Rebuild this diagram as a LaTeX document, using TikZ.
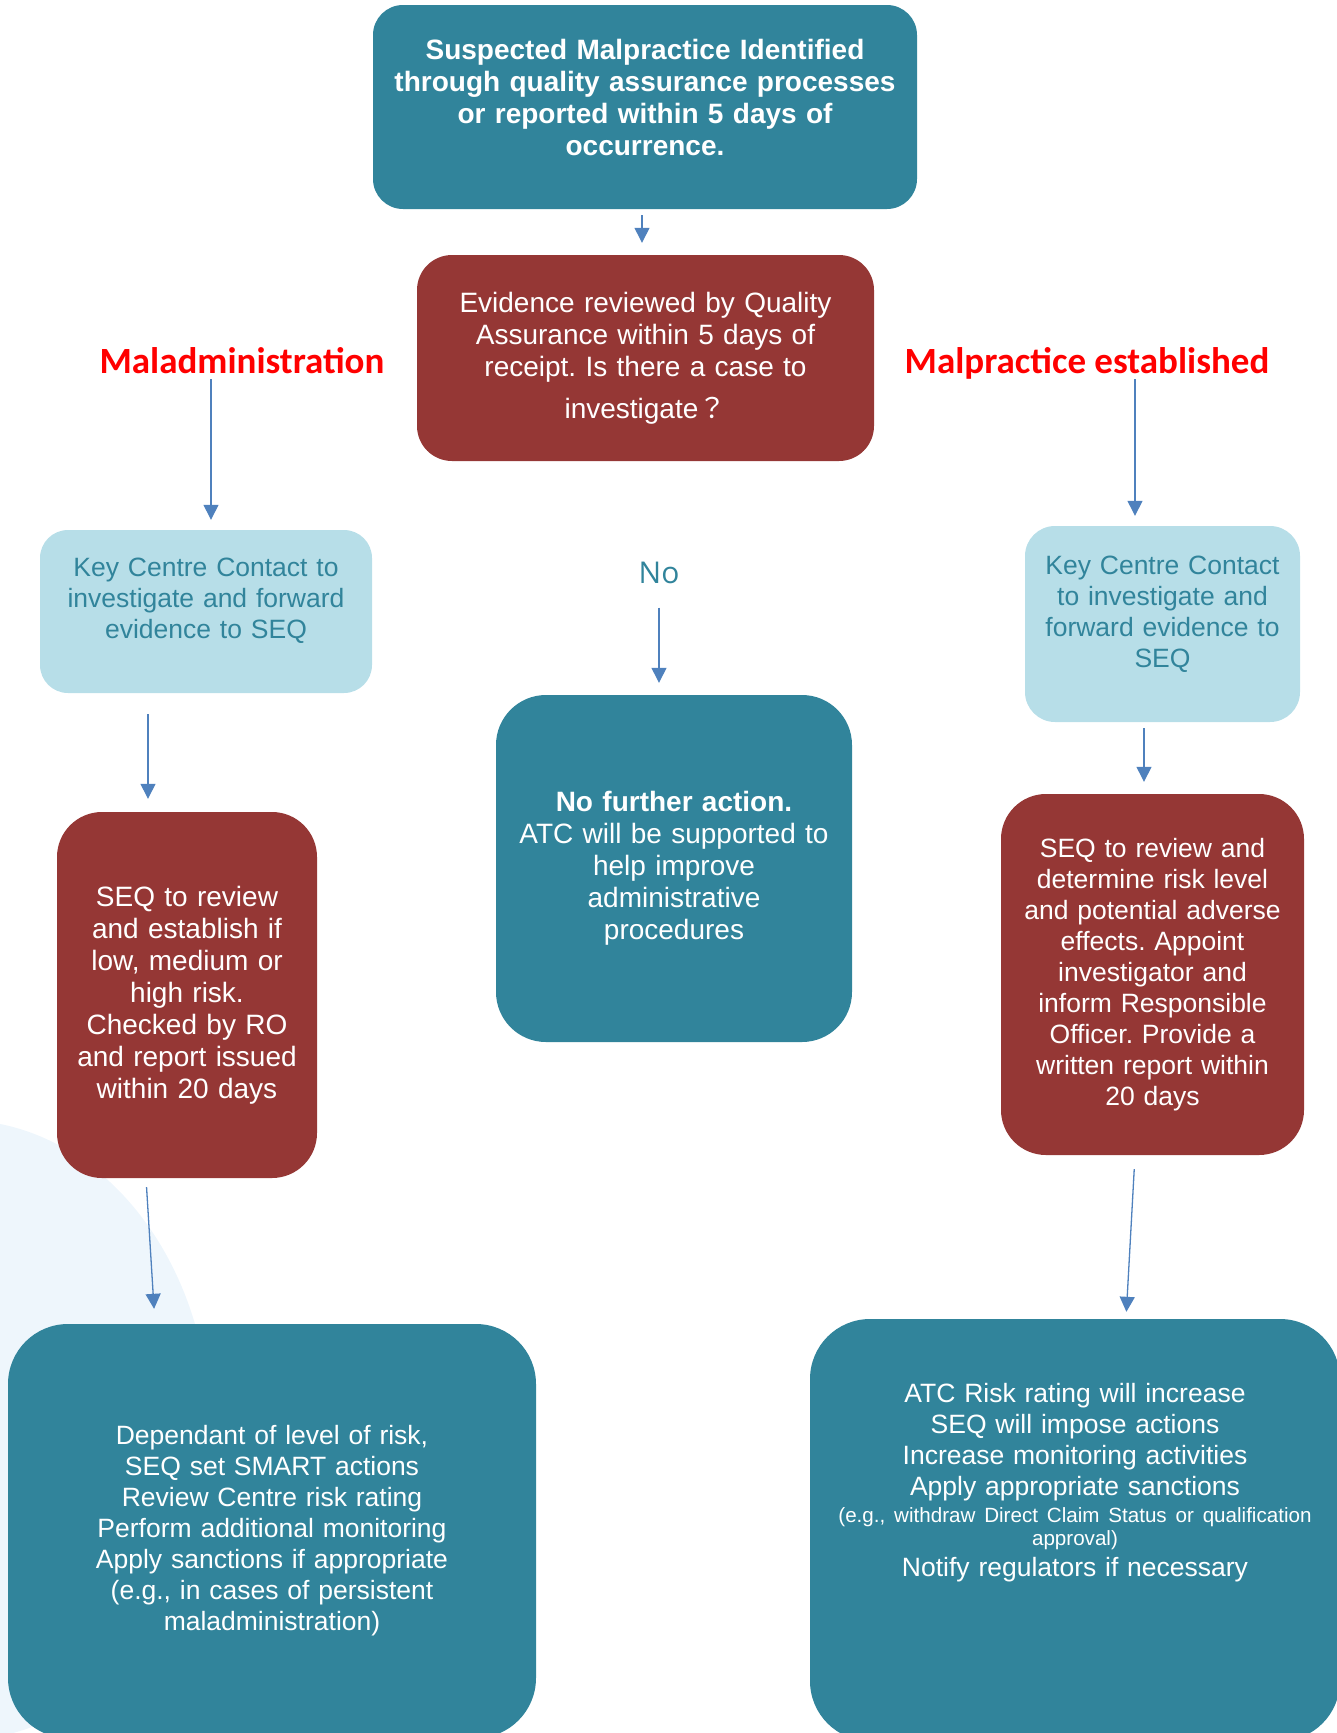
\documentclass[tikz,border=0pt]{standalone}
\usepackage{fontspec}
\setmainfont{Liberation Sans}
\newfontfamily\calibrifont{Carlito}
\newfontfamily\nofont{Open Sans}
\newfontfamily\cjkfont{Noto Sans CJK JP}
\usetikzlibrary{arrows}
\usepgflibrary{arrows.meta}
\definecolor{qateal}{HTML}{31849B}
\definecolor{qared}{HTML}{953735}
\definecolor{qalight}{HTML}{B7DEE8}
\definecolor{qaarrow}{HTML}{4F81BD}
\definecolor{qashade}{HTML}{EEF6FC}
\newcommand{\liftby}[1]{\par\vspace*{#1}}
\frenchspacing

\begin{document}
\begin{tikzpicture}
    [x=1pt, y=-1pt,
    flow/.style={draw=qaarrow, line width=1.3pt, -{Triangle[width=15pt,length=15pt]}},
    qabox/.style={inner sep=0pt, align=center, text width=#1},
    tealbox/.style={fill=qateal, text=white},
    redbox/.style={fill=qared, text=white},
    lightbox/.style={fill=qalight, text=qateal},
    branch/.style={inner sep=0pt, anchor=base, text=red, font=\calibrifont\bfseries\fontsize{37}{44}\selectfont},
    body/.style={font=\fontsize{26.5}{31}\selectfont},
    bigbody/.style={font=\fontsize{28}{32}\selectfont}]
        \useasboundingbox (0,0) rectangle (1337,1733);
        %% background shade
        \fill[qashade] (-40,1430) ellipse [x radius=250, y radius=310];

        %% start
        \node[qabox=520pt, tealbox, rounded corners=30pt, minimum width=544pt, minimum height=204pt,
            font=\bfseries\fontsize{28}{32}\selectfont] (suspect) at (645,107)
            {Suspected Malpractice Identified\\ through quality assurance processes\\ or reported within 5 days of\\ occurrence.\liftby{20pt}};
        \node[qabox=440pt, redbox, rounded corners=35pt, minimum width=457pt, minimum height=206pt, bigbody] (review) at (645.5,358)
            {Evidence reviewed by Quality\\ Assurance within 5 days of\\ receipt. Is there a case to\\[10pt] investigate{\cjkfont ？}};

        %% branches
        \node[branch] (maladmin) at (242,373) {Maladministration};
        \node[branch] (malprac) at (1087,373) {Malpractice established};
        \node[inner sep=0pt, anchor=base, text=qateal, font=\nofont\fontsize{30}{36}\selectfont] (no) at (659,583) {No};

        \node[qabox=320pt, lightbox, rounded corners=28pt, minimum width=332pt, minimum height=163pt, body] (keyleft) at (206,611.5)
            {Key Centre Contact to\\ investigate and forward\\ evidence to SEQ\liftby{21pt}};
        \node[qabox=265pt, lightbox, rounded corners=30pt, minimum width=275pt, minimum height=196pt, body] (keyright) at (1162.5,624)
            {Key Centre Contact\\ to investigate and\\ forward evidence to\\ SEQ\liftby{20pt}};
        \node[qabox=345pt, tealbox, rounded corners=50pt, minimum width=356pt, minimum height=347pt, bigbody] (nfa) at (674,868.5)
            {\textbf{No further action.}\\ ATC will be supported to\\ help improve\\ administrative\\ procedures};

        \node[qabox=250pt, redbox, rounded corners=45pt, minimum width=260pt, minimum height=366pt, bigbody] (seqleft) at (187,995)
            {SEQ to review\\ and establish if\\ low, medium or\\ high risk.\\ Checked by RO\\ and report issued\\ within 20 days};
        \node[qabox=295pt, redbox, rounded corners=45pt, minimum width=303pt, minimum height=361pt, body] (seqright) at (1152.5,974.5)
            {SEQ to review and\\ determine risk level\\ and potential adverse\\ effects. Appoint\\ investigator and\\ inform Responsible\\ Officer. Provide a\\ written report within\\ 20 days};

        %% outcomes
        \node[qabox=500pt, tealbox, rounded corners=60pt, minimum width=528pt, minimum height=414pt, body] (actleft) at (272,1531)
            {Dependant of level of risk,\\ SEQ set SMART actions\\ Review Centre risk rating\\ Perform additional monitoring\\ Apply sanctions if appropriate\\ (e.g., in cases of persistent\\ maladministration)};
        \node[qabox=510pt, tealbox, rounded corners=60pt, minimum width=530pt, minimum height=422pt, body] (actright) at (1075,1530)
            {ATC Risk rating will increase\\ SEQ will impose actions\\ Increase monitoring activities\\ Apply appropriate sanctions\par\vspace{4pt}
            {\fontsize{20.6}{23}\selectfont (e.g., withdraw Direct Claim Status or qualification\\ approval)\par}
            Notify regulators if necessary\liftby{94pt}};

        %% connectors
        \draw[flow, shorten <=6pt, shorten >=12pt] ([xshift=-3pt]suspect.south) -- ([xshift=-3.5pt]review.north);
        \draw[flow, shorten <=6pt, shorten >=10pt] ([xshift=5pt]keyleft.north |- maladmin.south) -- ([xshift=5pt]keyleft.north);
        \draw[flow, shorten <=0pt, shorten >=10pt] ([xshift=-27.5pt]keyright.north |- malprac.south) -- ([xshift=-27.5pt]keyright.north);
        \draw[flow, shorten <=24pt, shorten >=12pt] (no.south) -- (no.south |- nfa.north);
        \draw[flow, shorten <=21pt, shorten >=13pt] ([xshift=-58pt]keyleft.south) -- ([xshift=-58pt]keyleft.south |- seqleft.north);
        \draw[flow, shorten <=6pt, shorten >=12pt] ([xshift=-18.5pt]keyright.south) -- ([xshift=-18.5pt]keyright.south |- seqright.north);
        \draw[flow, shorten <=9pt, shorten >=15pt] ([xshift=-41pt]seqleft.south) -- ([xshift=-117pt]actleft.north);
        \draw[flow, shorten <=14pt, shorten >=7pt] ([xshift=-17.5pt]seqright.south) -- ([xshift=51pt]actright.north);
\end{tikzpicture}
\end{document}
